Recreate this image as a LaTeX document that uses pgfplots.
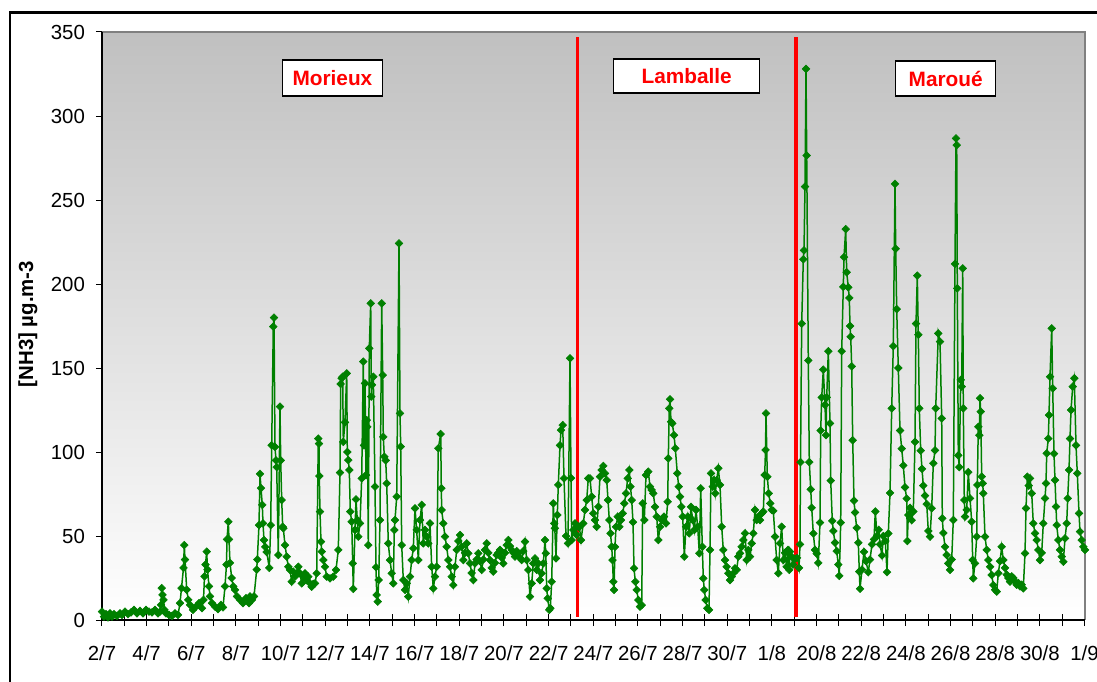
\documentclass[border=0pt]{standalone}
\usepackage{fontspec}
\setmainfont{Liberation Sans}
\usepackage{pgfplots}
\pgfplotsset{compat=1.18}

\definecolor{nhgreen}{RGB}{0,128,0}
\definecolor{plottop}{RGB}{192,192,192}
\definecolor{plotframe}{RGB}{128,128,128}
\definecolor{sitered}{RGB}{255,0,0}

\begin{document}
\begin{tikzpicture}[x=1pt,y=1pt]
\useasboundingbox (0,0) rectangle (548.5,340.5);
% outer chart frame
\draw[line width=1.4pt] (5,-20) -- (5,334.2) -- (600,334.2);
\begin{axis}[
  at={(51pt,30.5pt)}, anchor=south west,
  scale only axis, width=491.5pt, height=294pt,
  xmin=0, xmax=983, ymin=0, ymax=350,
  clip=false,
  axis background/.style={shade, top color=plottop, bottom color=white},
  axis line style={draw=none},
  /pgf/number format/assume math mode=true,
  tick label style={font=\fontsize{10.2}{12}\selectfont, black},
  ytick={0,50,...,350},
  xtick={0,44.66,...,983},
  minor xtick={0,22.33,...,983},
  xticklabels={2/7,4/7,6/7,8/7,10/7,12/7,14/7,16/7,18/7,20/7,22/7,24/7,26/7,28/7,30/7,1/8,20/8,22/8,24/8,26/8,28/8,30/8,1/9},
  xtick pos=bottom, ytick pos=left,
  xtick align=center, ytick align=outside,
  major tick length=3pt, minor tick length=6pt,
  tick style={black, line width=0.5pt},
  xticklabel style={yshift=-8pt},
  yticklabel style={xshift=-2pt},
]
% plot frame: grey top/right
\draw[plotframe, line width=1pt] (rel axis cs:0,1) -- (rel axis cs:1,1) -- (rel axis cs:1,0);

% hourly [NH3] record at the three sites
\addplot[color=nhgreen, line width=0.75pt, mark=square*, mark size=1.35pt,
  mark options={rotate=45, fill=nhgreen, draw=nhgreen, line width=0.3pt}]
coordinates {
(0,5) (2,2) (4,3.5) (6,1.5) (8,4) (10,2) (12,3.5) (15,2.5) (18,4) (20,3)
(23,5) (26,3.5) (29,4.5) (32,6) (35,4) (38,5.5) (41,4) (44,6) (47,5) (50,4.5)
(53,6) (56,4) (58,5) (59,9) (59.7,19) (60.5,15) (61.5,12) (62.5,6) (64,4) (67,3)
(70,2.5) (73,4) (76,3) (78,10) (79.5,19) (81.5,31) (82.3,44.6) (83,36) (84.7,18) (86.3,12)
(88,9) (91,6) (94,8) (97,10) (100,7) (101.5,12) (102.5,26) (103.5,33) (104.7,40.7) (105.5,30)
(107,20) (108,14) (110,10) (113,8) (116,6.5) (119,9) (121,7.5) (123,20) (124.5,33) (125,48)
(126.3,58.5) (127,48) (128,34) (129.7,25) (131.3,20) (133,18) (135,14) (138,12) (141,10) (144,13)
(147,10) (148,14) (150,12) (152,14) (154.7,30) (155.3,36) (157,56.5) (158,87) (159,78.5) (160.3,68.5)
(161,57.5) (162,47.6) (163.3,43.5) (164.7,40.5) (167.3,31) (168.7,56.5) (169.7,104) (171.3,174.6) (172,180) (173,103)
(174,95) (174.7,91) (176.3,38.7) (178,127) (178.7,95) (179.7,71.4) (180.7,55.5) (181.3,54.6) (183,44.6) (184.7,37.7)
(186.3,31.7) (188,29.8) (189.7,22.8) (191.3,28.8) (193,25.8) (194.7,27.8) (196.3,31.7) (198,27.8) (199.7,21.8) (201.3,25.8)
(203,27.8) (204.7,23.8) (206.3,25.8) (208,21.8) (209.7,19.8) (211.3,21.5) (213,21.8) (214.7,27.8) (216.3,108) (217,105)
(217.3,85.7) (218,64.5) (219,46.6) (219.7,40.7) (221.3,35.7) (223,31.7) (224.7,25.8) (228,24.8) (231.3,25.8) (234,29.8)
(236.3,41.7) (238,87.7) (238.7,140.5) (239.7,143.9) (240.7,144.8) (241.3,106) (243,117.7) (244.7,146.8) (245.3,100) (246.3,95.2)
(247.3,89.3) (248.3,64.5) (249.7,58.5) (250.7,33.7) (251.3,18.5) (253,53.6) (254,71.8) (255.3,59.5) (256.3,49.6) (258,57.5)
(259.7,84.3) (261.3,153.8) (262,104) (263,140.9) (264,86.3) (264.7,119) (265.3,115) (266.3,44.6) (267.3,161.7) (268.7,188.5)
(269.3,133) (270,140) (271.3,144.8) (273,79.4) (274,31.4) (274.7,14.9) (275.7,10.9) (276.7,23.8) (278,59.5) (279.7,188.5)
(280.7,145.8) (281.3,109) (282.3,97.2) (283.7,95) (284.7,81.3) (286.3,45.6) (288,35.7) (289.7,27.8) (291.3,21.8) (292.3,53.6)
(293,59.5) (294.7,73.4) (297,224.2) (298,123) (298.7,103.2) (299.7,44.6) (301.3,23.8) (303,17.9) (304.7,21.8) (306.3,13.9)
(308,25.8) (309.7,35.7) (311.3,42.7) (313,66.5) (314.7,53.6) (316.3,35.7) (318,59.5) (319.7,68.5) (321.3,45.6) (323,53.6)
(324.7,49.6) (326.3,45.6) (328,57.5) (329.7,31.7) (331.3,18.8) (333,25.8) (334.7,31.7) (336.3,102.2) (338.7,110.7) (339.3,78.4)
(339.7,65.5) (341.3,57.5) (343,49.6) (344.7,43.6) (346.3,35.7) (348,31.7) (349.7,25.8) (351.3,20.8) (353,31.7) (354.7,41.7)
(356.3,47) (358,50.6) (359.7,43.6) (361.3,35.7) (363,40) (364.7,45.6) (366.3,39.7) (368,33.7) (369.7,28) (371.3,23.8)
(373,33.7) (374.7,36) (376.3,39.7) (378,35) (379.7,29.8) (381.3,36) (383,41.7) (384.7,45.6) (386.3,40) (388,35.7)
(389.7,31) (391.3,28.8) (393,34) (394.7,38.7) (396.3,40) (398,41.7) (399.7,37) (401.3,33.7) (403,40) (404.7,44.6)
(406.3,47.6) (408,44) (409.7,41.7) (411.3,40) (413,37.7) (414.7,41) (416.3,39.7) (418,37) (419.7,35.7) (421.3,41)
(423,46.6) (424.7,35.7) (426.3,29.8) (428,13.9) (429.7,21.8) (431.3,33.7) (433,36.7) (434.7,29.8) (436.3,33.7) (438,23.8)
(439.7,27.8) (441.3,33.7) (443,47.6) (443.8,39.7) (444.7,18.8) (445.7,12.9) (447.3,6) (448.3,7) (449.7,22.8) (451.3,69.4)
(452.2,57.5) (452.8,54.6) (454,36.7) (455.3,62.5) (456.3,80.4) (458,104) (459,113) (460.7,116) (462,84.3) (464,50)
(466,45.6) (468,155.8) (469,84.5) (469.7,47.6) (471.3,53.6) (473,57.5) (474.7,50.6) (476.3,55.5) (477.3,55.5) (479,47.6)
(481.3,57.5) (483,65.5) (484.7,71.4) (486.3,84.3) (488,84.3) (489.7,73.4) (491.3,63.5) (493,59.5) (494.7,55.5) (496.3,67.4)
(498,85.3) (499.7,89.3) (501.3,91.7) (503,87.3) (504.7,83.3) (506,71.4) (507.3,59.5) (508.5,51.6) (509.7,43.6) (510.5,35.7)
(511.3,22.8) (512,17.9) (513,43.6) (514,55.5) (515.7,61.5) (517.3,55.5) (519,59.5) (520.7,63.5) (522.3,69.4) (524,75.4)
(525.7,84.3) (527.3,89.3) (528.5,79.4) (529.7,71.4) (531,58.2) (532,30.8) (533.3,22.8) (534.7,17.9) (536.3,11.9) (538,7.9)
(539.7,8.9) (540.7,69.4) (542.3,59.5) (544,86.3) (546.3,88.3) (548,79.4) (549.7,77.4) (551.3,75.4) (553,67.4) (554.7,61.5)
(556.3,47.6) (558,55.5) (559.7,59.5) (562,61.5) (564,57.5) (565.7,70.4) (566.3,96.2) (567.3,126) (568,131.4) (569,118)
(570.3,117) (572,110) (573.3,102.2) (575.3,87.3) (576.7,79.4) (578,73.4) (579.3,67.4) (580.7,61.5) (582.3,37.7) (584,55.5)
(585.7,61.5) (587.3,51.6) (589,67.4) (590.7,59.5) (592.3,53.6) (594,65.5) (595.7,55.5) (597.3,39.7) (598.7,78.4) (600.3,43.6)
(601.3,24.8) (602.3,17.9) (603.7,11.9) (605.3,7) (607,6) (608,41.7) (609,87.3) (610.7,79.4) (612,83.3) (613.3,75.4)
(614.7,83.3) (616.3,90.3) (618,80.4) (619.7,55.5) (621.3,41.7) (623,35.7) (624.7,31.7) (626.3,27.8) (628,23.8) (629.7,25.8)
(631.3,27.8) (633,30.8) (634.7,29.8) (636.3,37.7) (638,39.7) (639.7,43.6) (641.3,47.6) (643,51.6) (644.7,35.7) (646.3,41.7)
(648,37.7) (649.7,45.6) (651.3,51.6) (653,65.5) (654.7,59.5) (656.3,61.5) (658,59.5) (659.7,63.5) (661.3,64.5) (662.7,86.3)
(663.5,101.2) (664,123) (665.3,85.3) (666.7,75.4) (668.3,69.4) (669.7,65.5) (671.3,65) (673,49.6) (674.7,35.7) (676.3,27.8)
(678,45.6) (679.7,55.5) (681.3,35.7) (683,40) (684.7,31.7) (686,41.7) (687.3,29.8) (688,40.7) (689,38) (691,33)
(692.7,36.3) (695,37) (697,31) (698,45) (698.5,94) (699.7,176.4) (701.3,214.7) (702,220) (703,258) (704,328)
(704.7,276.5) (706.3,154.5) (707.3,94) (708.7,77.8) (709.7,66.8) (711.3,51.5) (713,41.7) (714.7,39.5) (716.3,34) (718,58)
(718.7,112.8) (719.7,132.5) (721.3,149) (723,128) (724,110) (724.7,132.5) (726.3,160) (728,117) (728.7,83) (730.3,59)
(731.3,53) (733,46) (734.7,41) (736.3,33) (737.3,26.3) (738.7,58) (739.7,160) (741.3,198.3) (742,216) (743.7,232.7)
(744.7,207) (746.3,198) (747.3,191.7) (748,175) (748.7,168.6) (749.7,151) (750.7,107) (752,71) (753,64) (754.7,54.8)
(756.3,46) (757.3,28.8) (758,18.6) (760,30) (762,40.6) (764,35) (766.3,28.5) (768,36) (770,45) (772,48)
(773.3,64.6) (775,50) (776.7,53.7) (778,45) (780,38.4) (781.3,50) (783.3,47) (785,28.5) (786.3,51.5) (788,75.6)
(789.7,126) (791.3,163) (793,259.6) (793.7,221) (794.7,185) (796.3,150) (798,112.8) (799.7,102) (801.3,92) (803,79)
(804.7,72.3) (805.3,47) (806.3,62.5) (808,66.8) (809.7,59.4) (811.3,64.6) (813,106) (814,176.4) (815.3,205) (816.3,169.8)
(817.3,126) (818.7,100.8) (820,90) (821.3,80) (823,74) (824.7,69) (826.3,53) (828,49.6) (829.7,66.5) (831.3,93.3)
(833,101) (833.7,126) (836.3,170.6) (838,165.7) (839.7,120) (840.3,60.5) (841.3,51.8) (843,43.6) (844.7,38.7) (846.3,33.7)
(848,29.8) (849.7,36) (851.3,59.5) (853,212) (854,286.7) (854.7,282.7) (855.3,197.4) (856.3,98) (857.3,91) (858.7,142.9)
(859.7,138.9) (860.7,209.3) (861.3,126) (862.3,71.4) (863,61.5) (864.7,65.5) (866.3,88) (868,72.4) (869.7,58.5) (870.7,35.7)
(871.3,24.8) (873,33.7) (874.7,49.6) (875.3,80.4) (876.3,115) (877.3,110) (878,132) (878.7,124) (879.7,85.3) (880.7,81.3)
(881.3,75.4) (883,49.6) (884.7,41.7) (886.3,35.7) (888,31.7) (889.7,26.8) (891.3,20.8) (893,18) (894.7,16.9) (896.3,27.8)
(898,35) (899.7,43.6) (901.3,35.7) (903,31) (904.7,27) (906.3,25) (908,22.8) (909.7,26) (911.3,25) (913,23)
(914.7,21) (916.3,22) (918,20) (919.7,21) (921.3,18.8) (923,39.7) (924,66.5) (925.3,85.3) (926.7,80) (928,84.3)
(929.7,75.4) (931.3,57.5) (933,51.6) (934.7,47.6) (936.3,41.7) (938,35.7) (939.7,40) (941.3,57.5) (943,72.4) (944,81.3)
(944.7,99.2) (946.3,108) (947,122) (948,144.8) (949.7,173.6) (950.7,137.9) (952,99) (953,83.3) (954,67.5) (954.7,56.5)
(956.3,47.6) (958,41.7) (959.7,37.7) (961.3,34.7) (963,48.6) (964.7,57.5) (965.7,72.4) (967,89.3) (968,108) (969,125)
(970.7,138.9) (972.3,143.9) (974,104) (975.3,87.3) (977,63.5) (978,52.6) (979.7,47.6) (981.3,43.6) (983,41.7)
};

% black axis lines on left and bottom
\draw[black, line width=0.6pt] (rel axis cs:0,1) -- (rel axis cs:0,0) -- (rel axis cs:1,0);

% site boundaries
\draw[sitered, line width=1.5pt] (axis cs:475.5,1.8) -- (axis cs:475.5,347);
\draw[sitered, line width=2pt] (axis cs:693.5,1.8) -- (axis cs:693.5,347);

% site names
\tikzset{site/.style={draw=black, fill=white, line width=0.75pt, text=sitered,
  font=\fontsize{10.4}{12}\selectfont\bfseries, inner sep=0pt, anchor=center}}
\node[site, minimum width=50pt, minimum height=18pt] at (axis cs:230.4,322.6) {Morieux};
\node[site, minimum width=73pt, minimum height=17pt] at (axis cs:584.7,323.8) {Lamballe};
\node[site, minimum width=50pt, minimum height=17.5pt] at (axis cs:843.7,322.3) {Maroué};
\end{axis}
% y axis title
\node[rotate=90, anchor=center, font=\fontsize{10.2}{12}\selectfont\bfseries] at (14,178.5) {[NH3] µg.m-3};
\end{tikzpicture}
\end{document}
